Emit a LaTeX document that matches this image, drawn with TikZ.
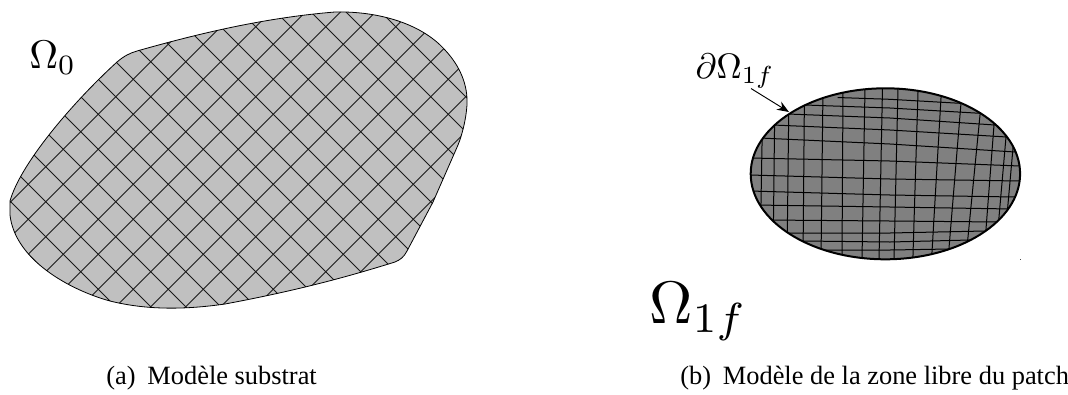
\documentclass[tikz,border=0pt]{standalone}
\usepackage{fontspec}
\usetikzlibrary{arrows.meta}
\setmainfont{Liberation Serif}
\definecolor{subfill}{HTML}{C0C0C0}
\definecolor{patchfill}{HTML}{808080}
\definecolor{meshline}{HTML}{1A1A1A}
\tikzset{
  submesh/.style={draw=meshline,line width=0.65pt},
  patchmesh/.style={draw=black,line width=0.75pt,shorten >=-4pt,shorten <=-4pt},
  outline/.style={draw=black,line width=0.6pt},
  patchedge/.style={draw=black,line width=1.5pt},
  captiontext/.style={font=\fontsize{19.8}{22}\selectfont,inner sep=0pt,anchor=base west},
  symbol/.style={inner sep=0pt,anchor=base west}
}
\newcommand{\substrateoutline}{(10,201) .. controls (20,165) and (70,105) .. (117,62)
  .. controls (124,56) and (130,53) .. (137,51)
  .. controls (190,36) and (260,18) .. (335,12)
  .. controls (375,11) and (420,22) .. (445,50)
  .. controls (460,66) and (468,85) .. (467,105)
  .. controls (466,120) and (462,135) .. (458,145)
  -- (433,202) -- (407,251)
  .. controls (404,257) and (400,260) .. (395,262)
  .. controls (350,276) and (300,290) .. (225,304)
  .. controls (190,309) and (150,311) .. (110,301)
  .. controls (70,290) and (15,260) .. (10,215) -- cycle}
\begin{document}
\begin{tikzpicture}[x=0.75pt,y=-0.75pt]
\useasboundingbox (0,0) rectangle (1068,394);
% substrate
\fill[subfill] \substrateoutline;
\begin{scope}
  \clip \substrateoutline;
  \foreach \k in {-13,...,10}{
    \pgfmathsetmacro{\d}{124+35*\k}
    \draw[submesh] ({-50+\d},-50) -- ({500+\d},500);
  }
  \foreach \k in {-10,...,14}{
    \pgfmathsetmacro{\s}{317.5+35*\k}
    \draw[submesh] ({\s+50},-50) -- ({\s-500},500);
  }
\end{scope}
\draw[outline] \substrateoutline;
\node[symbol,scale=3.0] (om0) at (28.5,68) {$\Omega_0$};
% patch
\fill[patchfill] (885.4,173.8) ellipse [x radius=134.7,y radius=85.5];
\begin{scope}
  \clip (885.4,173.8) ellipse [x radius=134.7,y radius=85.5];
  \foreach \xa/\ya/\xb/\yb in {
    763/88/760/260,775/88/773/260,789/88/787/260,804.5/88/803/260,
    823/88/821/260,843/88/842/260,865/88/862/260,882.5/88/879/260,
    898/88/894/260,918/92/913/255,941/98/932/252,961/103/949/248,
    980/115/968/237,994/125/986/229,1006/137/999/217,1013/148/1008/204}{
    \draw[patchmesh] (\xa,\ya) -- (\xb,\yb);
  }
  \foreach \xa/\ya/\xm/\ym/\xb/\yb in {
    843/97.7/890/99.3/960/103.3,805/105/890/108/980/113.3,
    788/114/890/118/995/125,773/125/890/130/1007/137,
    760/138/890/144/1015/152,750/158/890/161/1020/166,
    750/175/890/179/1020/181,750/191/890/195/1015/197,
    755/205/890/207/1012/209,765/220/890/221/1000/222,
    785/233/890/233/985/231,802/241/890/242/970/240,
    822/250/890/250/950/249}{
    \draw[patchmesh] (\xa,\ya) -- (\xm,\ym) -- (\xb,\yb);
  }
\end{scope}
\draw[patchedge] (885.4,173.8) ellipse [x radius=134.7,y radius=85.5];
\coordinate (arrstart) at (751,88.5);
\coordinate (arrend) at (789,112);
\draw[line width=0.7pt,-{Stealth[length=9pt,width=7pt]}] (arrstart) -- (arrend);
\node[symbol,scale=2.65] (dom) at (695,78) {$\partial\Omega_{1f}$};
\node[symbol,scale=4.5] (om1) at (648,323) {$\Omega_{1f}$};
\fill[black!70] (1019.5,258.5) rectangle (1020.5,260);
% captions
\node[captiontext] (capa) at (106,384) {(a)\hspace{0.45em}Modèle substrat};
\node[captiontext] (capb) at (680,384) {(b)\hspace{0.45em}Modèle de la zone libre du patch};
\end{tikzpicture}
\end{document}
